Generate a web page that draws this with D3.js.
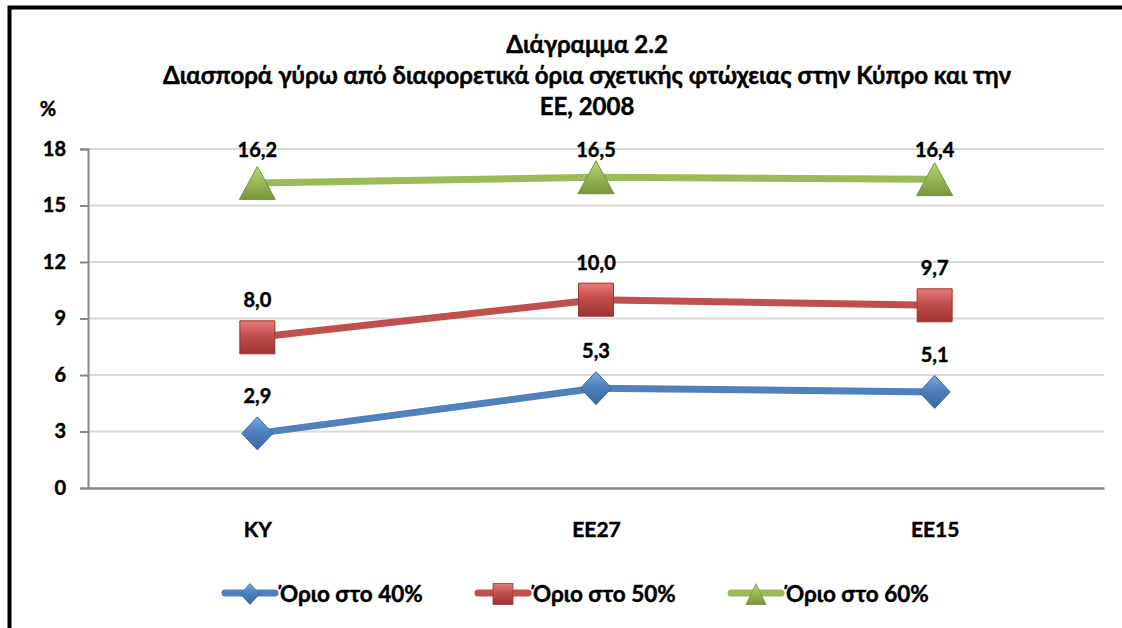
<!DOCTYPE html>
<html>
<head>
<meta charset="utf-8">
<script src="https://cdn.jsdelivr.net/npm/d3@7"></script>
<style>
  html, body { margin: 0; padding: 0; background: #ffffff; }
  svg { display: block; }
  text { font-family: Lato, "Open Sans", sans-serif; font-weight: bold; fill: #000; stroke: #000; stroke-width: 0.45px; }
</style>
</head>
<body>
<svg id="chart" width="1122" height="628"></svg>
<script>
// ---- data ----
const categories = ["ΚΥ", "ΕΕ27", "ΕΕ15"];
const seriesNames = ["Όριο στο 40%", "Όριο στο 50%", "Όριο στο 60%"];
const values40 = [2.9, 5.3, 5.1];
const values50 = [8.0, 10.0, 9.7];
const values60 = [16.2, 16.5, 16.4];
const yTicks = [0, 3, 6, 9, 12, 15, 18];
const titleLines = ["Διάγραμμα 2.2", "Διασπορά γύρω από διαφορετικά όρια σχετικής φτώχειας στην Κύπρο και την", "ΕΕ, 2008"];
const yUnit = "%";

// ---- build ----
const series = [
  { name: seriesNames[0], values: values40, color: "#4f81bd", shape: "diamond", top: "#7aa7e0", bottom: "#3a679e" },
  { name: seriesNames[1], values: values50, color: "#c0504d", shape: "square", top: "#ea7a76", bottom: "#9e3330" },
  { name: seriesNames[2], values: values60, color: "#9bbb59", shape: "triangle", top: "#b9d870", bottom: "#78953c" }
];

const svg = d3.select("#chart");
const plot = { left: 88, right: 1104, top: 149, bottom: 488 };

const x = d3.scalePoint().domain(categories).range([plot.left, plot.right]).padding(0.5);
const y = d3.scaleLinear().domain([0, 18]).range([plot.bottom, plot.top]);

const fmt = v => d3.format(".1f")(v).replace(".", ",");

// gradients
const defs = svg.append("defs");
series.forEach((s, i) => {
  const g = defs.append("linearGradient").attr("id", "grad" + i)
    .attr("x1", 0).attr("y1", 0).attr("x2", 0).attr("y2", 1);
  g.append("stop").attr("offset", "0%").attr("stop-color", s.top);
  g.append("stop").attr("offset", "45%").attr("stop-color", s.color);
  g.append("stop").attr("offset", "100%").attr("stop-color", s.bottom);
});

// outer frame (top and left visible)
svg.append("rect").attr("x", 9.5).attr("y", 7.5).attr("width", 1130).attr("height", 640)
  .attr("fill", "none").attr("stroke", "#000").attr("stroke-width", 4);

// title
const title = svg.append("text").attr("text-anchor", "middle").style("font-size", "24px");
titleLines.forEach((t, i) => {
  title.append("tspan").attr("x", 587).attr("y", 53 + i * 31).text(t);
});

// unit
svg.append("text").attr("x", 48).attr("y", 116).attr("text-anchor", "middle")
  .style("font-size", "20px").text(yUnit);

// gridlines
svg.append("g").selectAll("line").data(yTicks.filter(t => t > 0)).join("line")
  .attr("x1", plot.left).attr("x2", plot.right)
  .attr("y1", d => y(d)).attr("y2", d => y(d))
  .attr("stroke", "#d9d9d9").attr("stroke-width", 2);

// y axis
const yAxis = svg.append("g").attr("transform", `translate(${plot.left},0)`)
  .call(d3.axisLeft(y).tickValues(yTicks).tickSize(8).tickPadding(14).tickFormat(d3.format("d")));
yAxis.select(".domain").attr("stroke", "#868686").attr("stroke-width", 2);
yAxis.selectAll(".tick line").attr("stroke", "#868686").attr("stroke-width", 2);
yAxis.selectAll(".tick text").style("font-size", "20px").style("font-family", "Lato, sans-serif")
  .style("font-weight", "bold").attr("fill", "#000");

// x axis
const xAxis = svg.append("g").attr("transform", `translate(0,${plot.bottom})`)
  .call(d3.axisBottom(x).tickSize(0).tickPadding(34));
xAxis.select(".domain").attr("stroke", "#868686").attr("stroke-width", 2.5);
xAxis.selectAll(".tick text").style("font-size", "21px").style("font-family", "Lato, sans-serif")
  .style("font-weight", "bold").attr("fill", "#000");

// marker shape generator
function shapePath(shape, w, h) {
  const hw = w / 2, hh = h / 2;
  if (shape === "diamond") return `M0,${-hh}L${hw},0L0,${hh}L${-hw},0Z`;
  if (shape === "square") return `M${-hw},${-hh}H${hw}V${hh}H${-hw}Z`;
  return `M0,${-hh}L${hw},${hh}L${-hw},${hh}Z`;
}
const markerSize = { diamond: [31, 33], square: [35, 33], triangle: [36, 33] };
const legendMarkerSize = { diamond: [19, 21], square: [20, 21], triangle: [20, 21] };

// lines + markers + labels
const line = d3.line().x((d, i) => x(categories[i])).y(d => y(d));
series.forEach((s, si) => {
  const g = svg.append("g");
  g.append("path").datum(s.values).attr("d", line)
    .attr("fill", "none").attr("stroke", s.color).attr("stroke-width", 7).attr("stroke-linejoin", "round");
  g.selectAll("path.mk").data(s.values).join("path").attr("class", "mk")
    .attr("transform", (d, i) => `translate(${x(categories[i])},${y(d)})`)
    .attr("d", shapePath(s.shape, ...markerSize[s.shape]))
    .attr("fill", `url(#grad${si})`).attr("stroke", s.bottom).attr("stroke-width", 1);
  g.selectAll("text").data(s.values).join("text")
    .attr("x", (d, i) => x(categories[i]))
    .attr("y", d => Math.max(y(d) - 30, 157))
    .attr("text-anchor", "middle").style("font-size", "20px")
    .text(d => fmt(d));
});

// legend
const legend = svg.append("g").attr("transform", "translate(222,593)");
series.forEach((s, i) => {
  const lg = legend.append("g").attr("transform", `translate(${i * 253},0)`);
  lg.append("line").attr("x1", 3).attr("x2", 53).attr("y1", 0).attr("y2", 0)
    .attr("stroke", s.color).attr("stroke-width", 7).attr("stroke-linecap", "round");
  lg.append("path").attr("transform", "translate(28,1)")
    .attr("d", shapePath(s.shape, ...legendMarkerSize[s.shape]))
    .attr("fill", `url(#grad${i})`).attr("stroke", s.bottom).attr("stroke-width", 0.8);
  lg.append("text").attr("x", 58).attr("y", 9).style("font-size", "22.5px").text(s.name);
});
</script>
</body>
</html>
